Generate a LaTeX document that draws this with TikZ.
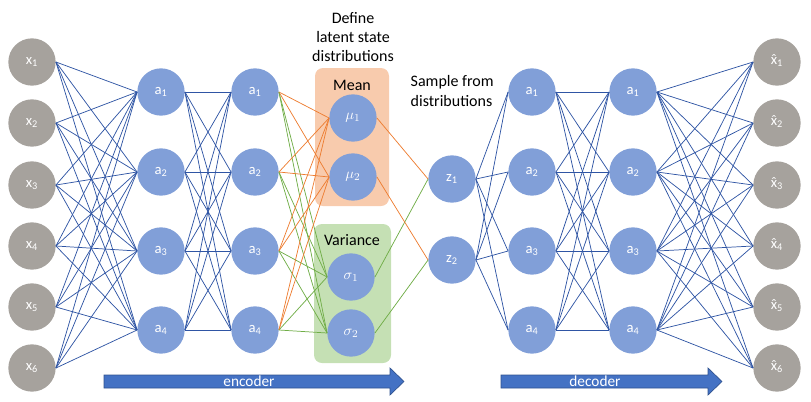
\documentclass[tikz,border=0pt]{standalone}
\usepackage{fontspec}
\setmainfont{Carlito}
\usetikzlibrary{positioning}

\definecolor{nodegrey}{HTML}{A6A29D}
\definecolor{nodeblue}{HTML}{819FD8}
\definecolor{wireblue}{HTML}{2F55A4}
\definecolor{wireorange}{HTML}{ED7D31}
\definecolor{wiregreen}{HTML}{70AD47}
\definecolor{meanbox}{HTML}{F8CBAD}
\definecolor{varbox}{HTML}{C5E0B4}
\definecolor{arrowfill}{HTML}{4472C4}
\definecolor{arrowline}{HTML}{2F528F}

% x with a hat on top
\newcommand{\xhatlbl}{\ooalign{x\cr\hidewidth\char"02C6\hidewidth\cr}}

\begin{document}
\begin{tikzpicture}[x=0.75pt,y=-0.75pt,
    innode/.style={shape=circle,fill=nodegrey,draw=none,text=white,minimum size=35.5pt,inner sep=0pt,font=\fontsize{11}{13}\selectfont},
    hidnode/.style={shape=circle,fill=nodeblue,draw=none,text=white,minimum size=35.5pt,inner sep=0pt,font=\fontsize{11}{13}\selectfont},
    wire/.style={draw=wireblue,line width=0.55pt},
    meanwire/.style={draw=wireorange,line width=0.55pt},
    varwire/.style={draw=wiregreen,line width=0.55pt},
    caption/.style={align=center,font=\fontsize{12}{14.3}\selectfont}]
  \useasboundingbox (0,0) rectangle (811,401);

  % boxes behind the latent nodes
  \fill[varbox,rounded corners=6pt] (314,224) rectangle (391,363);
  \fill[meanbox,rounded corners=6pt] (315,68) rectangle (389,206);

  % input and output layers
  \foreach \i/\y in {1/62,2/123,3/185,4/246,5/307,6/368} {
    \node[innode] (X\i) at (32,\y) {x\textsubscript{\i}};
    \node[innode] (Y\i) at (777,\y) {\xhatlbl\textsubscript{\i}};
  }

  % hidden layers
  \foreach \j/\y in {1/92,2/172,3/251,4/330} {
    \node[hidnode] (E\j) at (161,\y) {a\textsubscript{\j}};
    \node[hidnode] (F\j) at (255,\y) {a\textsubscript{\j}};
    \node[hidnode] (D\j) at (532,\y) {a\textsubscript{\j}};
    \node[hidnode] (G\j) at (633,\y) {a\textsubscript{\j}};
  }

  % latent nodes
  \node[hidnode] (M1) at (353,118) {$\mu_1$};
  \node[hidnode] (M2) at (353,177) {$\mu_2$};
  \node[hidnode] (S1) at (351,277) {$\sigma_1$};
  \node[hidnode] (S2) at (351,333) {$\sigma_2$};
  \node[hidnode] (Z1) at (452,179) {z\textsubscript{1}};
  \node[hidnode] (Z2) at (452,260) {z\textsubscript{2}};

  % labels
  \node[caption] (define) at (353,37) {Define\\latent state\\distributions};
  \node[caption] (mean) at (352,85) {Mean};
  \node[caption] (variance) at (352,240) {Variance};
  \node[caption,align=left,anchor=west] (sample) at (406,91) {Sample from\\distributions};

  % connections
  \foreach \i in {1,...,6} \foreach \j in {1,...,4} {
    \path[wire] (X\i.east) -- (E\j.west);
    \path[wire] (G\j.east) -- (Y\i.west);
  }
  \foreach \i in {1,...,4} \foreach \j in {1,...,4} {
    \path[wire] (E\i.east) -- (F\j.west);
    \path[wire] (D\i.east) -- (G\j.west);
  }
  \foreach \i in {1,...,4} \foreach \j in {1,2} {
    \path[meanwire] (F\i.east) -- (M\j.west);
    \path[varwire] (F\i.east) -- (S\j.west);
  }
  \foreach \j in {1,2} {
    \path[meanwire] (M\j.east) -- (Z\j.west);
    \path[varwire] (S\j.east) -- (Z\j.west);
  }
  \foreach \i in {1,2} \foreach \j in {1,...,4}
    \path[wire] (Z\i.east) -- (D\j.west);

  % encoder / decoder arrows
  \filldraw[fill=arrowfill,draw=arrowline,line width=0.5pt]
    (104,375) -- (390,375) -- (390,368) -- (404,381.5) -- (390,395) -- (390,388) -- (104,388) -- cycle;
  \node[text=white,font=\fontsize{11.5}{13}\selectfont] (enc) at (249,381.5) {encoder};
  \filldraw[fill=arrowfill,draw=arrowline,line width=0.5pt]
    (501,375) -- (708,375) -- (708,368) -- (722,381.5) -- (708,395) -- (708,388) -- (501,388) -- cycle;
  \node[text=white,font=\fontsize{11.5}{13}\selectfont] (dec) at (595,381.5) {decoder};
\end{tikzpicture}
\end{document}
